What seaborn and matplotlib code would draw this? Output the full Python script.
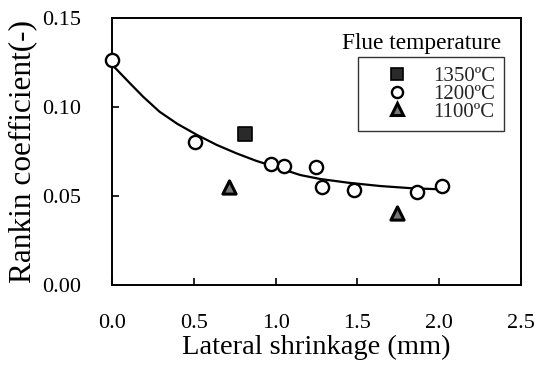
import matplotlib
matplotlib.use("Agg")
import matplotlib.pyplot as plt
import seaborn as sns
import pandas as pd
from matplotlib.lines import Line2D

# Data
x_1200 = [0.0, 0.507, 0.970, 1.051, 1.247, 1.282, 1.479, 1.862, 2.019]
y_1200 = [0.1264, 0.0805, 0.0678, 0.0670, 0.0665, 0.0552, 0.0534, 0.0524, 0.0558]
x_1350 = [0.813]
y_1350 = [0.0847]
x_1100 = [0.715, 1.744]
y_1100 = [0.0552, 0.0403]
curve_x = [0.0, 0.11, 0.19, 0.29, 0.40, 0.52, 0.64, 0.76, 0.88, 1.01, 1.15, 1.27, 1.44, 1.64, 1.84, 2.0]
curve_y = [0.1238, 0.1133, 0.1058, 0.0974, 0.0905, 0.0843, 0.0787, 0.0740, 0.0698,
           0.0660, 0.0618, 0.0596, 0.0575, 0.0556, 0.0543, 0.0538]

xticks = [0.0, 0.5, 1.0, 1.5, 2.0, 2.5]
yticks = [0.00, 0.05, 0.10, 0.15]
legend_labels = ["1350\u00baC", "1200\u00baC", "1100\u00baC"]

sns.set_theme(style="white")
plt.rcParams['font.family'] = ['Liberation Serif', 'DejaVu Serif']

fig = plt.figure(figsize=(5.35, 3.69), dpi=100)
ax = fig.add_axes([112/535, 1-285/369, 409/535, 267/369])

curve = pd.DataFrame({"x": curve_x, "y": curve_y})
sns.lineplot(data=curve, x="x", y="y", ax=ax, color="black", lw=1.6, zorder=2)

ms = 9.5
sns.scatterplot(x=x_1200, y=y_1200, ax=ax, marker="o", s=ms**2, facecolor="white",
                edgecolor="black", linewidth=1.7, zorder=3, clip_on=False)
sns.scatterplot(x=x_1350, y=y_1350, ax=ax, marker="s", s=ms**2, facecolor="#2a2a2a",
                edgecolor="black", linewidth=1.2, zorder=3)
sns.scatterplot(x=x_1100, y=y_1100, ax=ax, marker="^", s=ms**2, facecolor="#777777",
                edgecolor="black", linewidth=2.2, zorder=3)

ax.set_xlim(0, 2.5)
ax.set_ylim(0, 0.15)
ax.set_xticks(xticks)
ax.set_yticks(yticks)
ax.set_xticklabels([f"{v:.1f}" for v in xticks])
ax.set_yticklabels([f"{v:.2f}" for v in yticks])
ax.tick_params(direction="in", length=5, width=1.2, labelsize=16, colors="black",
               bottom=True, left=True)
ax.tick_params(axis="y", pad=22)
ax.tick_params(axis="x", pad=21)
for sp in ax.spines.values():
    sp.set_visible(True)
    sp.set_color("black")
    sp.set_linewidth(1.4)

ax.set_xlabel("Lateral shrinkage (mm)", fontsize=20.5, color="black", labelpad=1)
ax.set_ylabel("Rankin coefficient(-)", fontsize=22.5, color="black", labelpad=4)

handles = [
    Line2D([], [], ls="none", marker="s", ms=8, mfc="#2a2a2a", mec="black", mew=1.2),
    Line2D([], [], ls="none", marker="o", ms=8, mfc="white", mec="black", mew=1.7),
    Line2D([], [], ls="none", marker="^", ms=8, mfc="#777777", mec="black", mew=2.2),
]
leg = ax.legend(handles, legend_labels, loc="upper left",
                bbox_to_anchor=(0.601, 0.854), frameon=True, fancybox=False,
                fontsize=15, handlelength=2.9, handletextpad=0.25, labelspacing=-0.08,
                borderpad=0.45, borderaxespad=0.0)
leg.get_frame().set_edgecolor("black")
leg.get_frame().set_linewidth(1.0)

ax.text(0.758, 0.905, "Flue temperature", transform=ax.transAxes, ha="center",
        va="center", fontsize=16.8, color="black")

fig.savefig("out.png", dpi=100)
